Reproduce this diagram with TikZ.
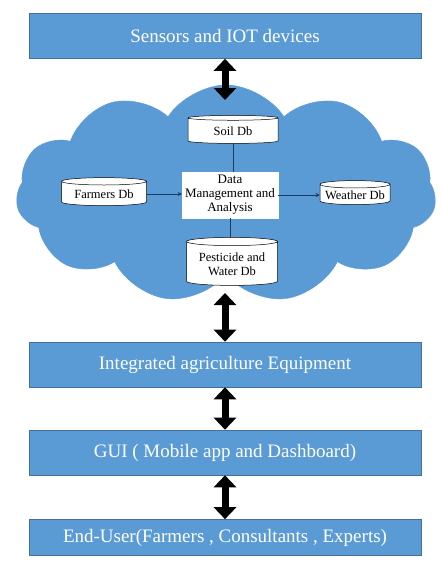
\documentclass[tikz,border=0pt]{standalone}
\usepackage{fontspec}
\setmainfont{Liberation Serif}
\usetikzlibrary{shapes.symbols,shapes.geometric,arrows.meta}
\definecolor{boxblue}{RGB}{91,155,213}
\definecolor{boxedge}{RGB}{65,113,156}
\definecolor{linkblue}{RGB}{31,56,100}
\begin{document}
\begin{tikzpicture}[x=1pt,y=-1pt,
  layer/.style={rectangle,fill=boxblue,draw=boxedge,line width=0.6pt,minimum width=392pt,minimum height=45pt,
    text=white,font=\fontsize{19}{22}\selectfont,inner sep=0pt},
  dbcyl/.style={cylinder,shape border rotate=90,aspect=0.12,draw=black,fill=white,line width=0.5pt,
    font=\fontsize{12.5}{14}\selectfont,align=center,inner sep=1pt},
  dmbox/.style={rectangle,draw=white,fill=white,font=\fontsize{13}{14}\selectfont,align=center,
    minimum width=96pt,minimum height=46pt,inner sep=1pt},
  bigarrow/.style={line width=7pt,{Triangle[width=22pt,length=12pt]}-{Triangle[width=22pt,length=12pt]}},
  link/.style={draw=linkblue,line width=0.9pt},
  linkarrow/.style={link,-{Stealth[length=4pt,width=4pt]}}
]
\useasboundingbox (0,0) rectangle (442,571);
\fill[white] (0,0) rectangle (442,571);

% cloud
\node[cloud,cloud puffs=11,cloud puff arc=115,cloud ignores aspect,fill=boxblue,draw=boxblue,
  minimum width=420pt,minimum height=218pt] (cloud) at (226,194) {};

% layers
\node[layer] (sensors) at (225,36) {Sensors and IOT devices};
\node[layer] (integ) at (225,364.5) {Integrated agriculture Equipment};
\node[layer] (gui) at (225,452.5) {GUI ( Mobile app and Dashboard)};
\node[layer,minimum height=36pt] (enduser) at (225,537.5) {End-User(Farmers , Consultants , Experts)};

% inner nodes
\node[dmbox] (dm) at (230,195) {Data\\Management and\\Analysis};
\node[dbcyl,minimum height=28pt,minimum width=90pt] (soil) at (233,131) {Soil Db};
\node[dbcyl,minimum height=48pt,minimum width=91pt] (pest) at (232,264) {Pesticide and\\Water Db};
\node[dbcyl,minimum height=28pt,minimum width=85pt] (farm) at (104,194) {Farmers Db};
\node[dbcyl,minimum height=24pt,minimum width=70pt] (weather) at (355,195) {Weather Db};

\draw[link] (soil.south) -- (soil.south |- dm.north);
\draw[link] (dm.south) -- (dm.south |- pest.north);
\draw[linkarrow] (farm.east) -- (farm.east -| dm.west);
\draw[linkarrow] (dm.east) -- (dm.east -| weather.west);

% big arrows
\coordinate (cloudtop) at (225,100);
\coordinate (cloudbot) at (225,293);
\draw[bigarrow] (sensors.south) -- (cloudtop);
\draw[bigarrow] (cloudbot) -- (integ.north);
\draw[bigarrow] (integ.south) -- (gui.north);
\draw[bigarrow] (gui.south) -- (enduser.north);
\end{tikzpicture}
\end{document}
